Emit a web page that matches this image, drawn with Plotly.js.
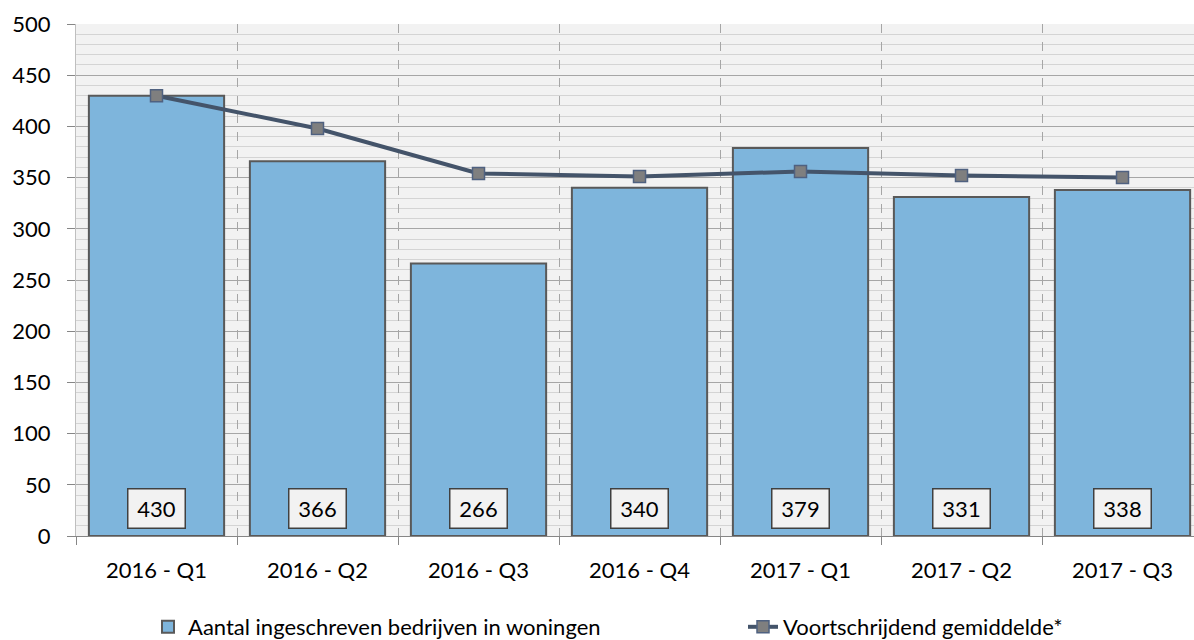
<!DOCTYPE html>
<html>
<head>
<meta charset="utf-8">
<script src="https://cdn.plot.ly/plotly-3.0.1.min.js"></script>
<style>html,body{margin:0;padding:0;background:#fff;}#chart{width:1194px;height:640px;}</style>
</head>
<body>
<div id="chart"></div>
<script>
const categories = ["2016 - Q1", "2016 - Q2", "2016 - Q3", "2016 - Q4", "2017 - Q1", "2017 - Q2", "2017 - Q3"];
const barValues = [430, 366, 266, 340, 379, 331, 338];
const avgValues = [430, 398, 354, 351, 356, 352, 350];
const barName = "Aantal ingeschreven bedrijven in woningen";
const lineName = "Voortschrijdend gemiddelde*";
const labelY = 27;

const FONT = "Lato, 'Open Sans', sans-serif";
const FS = 22;

const traces = [
  {
    type: "bar",
    name: barName,
    x: categories,
    y: barValues,
    width: 0.84,
    marker: {color: "#7EB5DC", line: {color: "#595959", width: 2}},
    legend: "legend",
    hoverinfo: "x+y"
  },
  {
    type: "scatter",
    mode: "lines+markers",
    name: lineName,
    x: categories,
    y: avgValues,
    line: {color: "#44546A", width: 4},
    marker: {symbol: "square", size: 12, color: "#7F7F7F", line: {color: "#4F6180", width: 1.5}},
    legend: "legend2"
  }
];

const annotations = categories.map((c, i) => ({
  x: c, y: labelY, xref: "x", yref: "y",
  text: String(barValues[i]),
  showarrow: false,
  font: {family: FONT, size: FS, color: "#000"},
  bgcolor: "#F2F2F2",
  bordercolor: "#404040",
  borderwidth: 1.5,
  borderpad: 7,
  width: 42,
  height: 24,
  xanchor: "center", yanchor: "middle"
}));

const legendBase = {
  orientation: "h",
  xref: "container", yref: "container",
  y: 13 / 640,
  xanchor: "left", yanchor: "middle",
  font: {family: FONT, size: FS, color: "#000"},
  bgcolor: "rgba(0,0,0,0)"
};

const layout = {
  width: 1194, height: 640,
  margin: {l: 76, r: 0, t: 24, b: 104},
  paper_bgcolor: "#FFFFFF",
  plot_bgcolor: "#F2F2F2",
  font: {family: FONT, size: FS, color: "#000"},
  showlegend: true,
  xaxis: {
    type: "category",
    range: [-0.5, 6.444],
    tickson: "boundaries",
    ticks: "outside", ticklen: 8, tickcolor: "#868686", tickwidth: 1,
    showgrid: true, gridcolor: "#A6A6A6", griddash: "dash", gridwidth: 1,
    showline: true, linecolor: "#868686", linewidth: 1,
    ticklabelstandoff: 15,
    tickfont: {family: FONT, size: FS, color: "#000"},
    fixedrange: true
  },
  yaxis: {
    range: [0, 500],
    dtick: 50, tick0: 0,
    ticks: "outside", ticklen: 8, tickcolor: "#868686",
    showgrid: true, gridcolor: "#A6A6A6", gridwidth: 1,
    minor: {dtick: 10, showgrid: true, gridcolor: "#D4D4D4", gridwidth: 1, ticks: ""},
    showline: true, linecolor: "#BFBFBF", linewidth: 1,
    zeroline: false,
    ticklabelstandoff: 12,
    tickfont: {family: FONT, size: FS, color: "#000"},
    fixedrange: true
  },
  legend: Object.assign({}, legendBase, {x: 148 / 1194}),
  legend2: Object.assign({}, legendBase, {x: 743 / 1194}),
  annotations: annotations
};

Plotly.newPlot("chart", traces, layout, {displayModeBar: false, staticPlot: true});
</script>
</body>
</html>
